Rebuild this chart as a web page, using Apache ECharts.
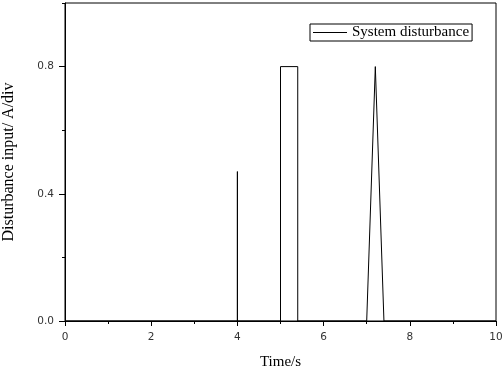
<!DOCTYPE html>
<html>
<head>
<meta charset="utf-8">
<script src="https://cdn.jsdelivr.net/npm/echarts@6/dist/echarts.min.js"></script>
<style>html,body{margin:0;padding:0;background:#fff;}#c{width:504px;height:368px;}</style>
</head>
<body>
<div id="c"></div>
<script>
var times  = [0, 4, 4,    4, 5, 5,   5.4, 5.4, 7, 7.2, 7.4, 10];
var values = [0, 0, 0.47, 0, 0, 0.8, 0.8, 0,   0, 0.8, 0,   0];
var seriesName = 'System disturbance';
var xTitle = 'Time/s';
var yTitle = 'Disturbance input/ A/div';
var yMajorTicks = [0, 0.4, 0.8];
var yMinorTicks = [0.2, 0.6, 1.0];

var data = times.map(function (t, i) { return [t, values[i]]; });
var chart = echarts.init(document.getElementById('c'), null, {renderer: 'canvas'});
var serif = '"Liberation Serif", "Times New Roman", serif';
var labelFont = {fontFamily: 'DejaVu Sans', fontSize: 10.5, color: '#333'};
chart.setOption({
  animation: false,
  backgroundColor: '#fff',
  grid: {left: 65, right: 8, top: 3, bottom: 47, containLabel: false, outerBoundsMode: 'none',
         show: true, borderColor: '#000', borderWidth: 1, backgroundColor: 'transparent'},
  legend: {
    show: true, left: 310, top: 24, orient: 'horizontal',
    borderColor: '#000', borderWidth: 1, padding: [1, 3, 1, 3],
    icon: 'rect', itemWidth: 34, itemHeight: 1, itemGap: 4,
    itemStyle: {color: '#000'},
    textStyle: {fontFamily: serif, fontSize: 15, color: '#000'},
    data: [{name: seriesName}]
  },
  xAxis: {
    type: 'value', min: 0, max: 10, interval: 2,
    name: xTitle, nameLocation: 'middle', nameGap: 34,
    nameTextStyle: {fontFamily: serif, fontSize: 15, color: '#000'},
    axisLine: {show: true, onZero: false, lineStyle: {color: '#000', width: 1}},
    axisTick: {show: true, inside: false, length: 5, lineStyle: {color: '#000'}},
    minorTick: {show: true, splitNumber: 2, length: 3, lineStyle: {color: '#000'}},
    axisLabel: Object.assign({margin: 11}, labelFont),
    splitLine: {show: false}
  },
  yAxis: [{
    type: 'value', min: 0, max: 1.0, position: 'left', offset: 0,
    name: yTitle, nameLocation: 'middle', nameGap: 48,
    nameTextStyle: {fontFamily: serif, fontSize: 16, color: '#000'},
    axisLine: {show: true, onZero: false, lineStyle: {color: '#000', width: 1}},
    axisTick: {show: true, inside: false, length: 6, customValues: yMajorTicks, lineStyle: {color: '#000'}},
    axisLabel: Object.assign({margin: 11, customValues: yMajorTicks, formatter: function (v) { return v.toFixed(1); }}, labelFont),
    splitLine: {show: false}
  }, {
    type: 'value', min: 0, max: 1.0, position: 'left', offset: 0,
    axisLine: {show: false},
    axisTick: {show: true, inside: false, length: 3, customValues: yMinorTicks, lineStyle: {color: '#000'}},
    axisLabel: {show: false},
    splitLine: {show: false}
  }],
  series: [{
    name: seriesName, type: 'line', data: data, xAxisIndex: 0, yAxisIndex: 0,
    symbol: 'none', showSymbol: false,
    lineStyle: {color: '#000', width: 1},
    itemStyle: {color: '#000'}
  }]
});
</script>
</body>
</html>
